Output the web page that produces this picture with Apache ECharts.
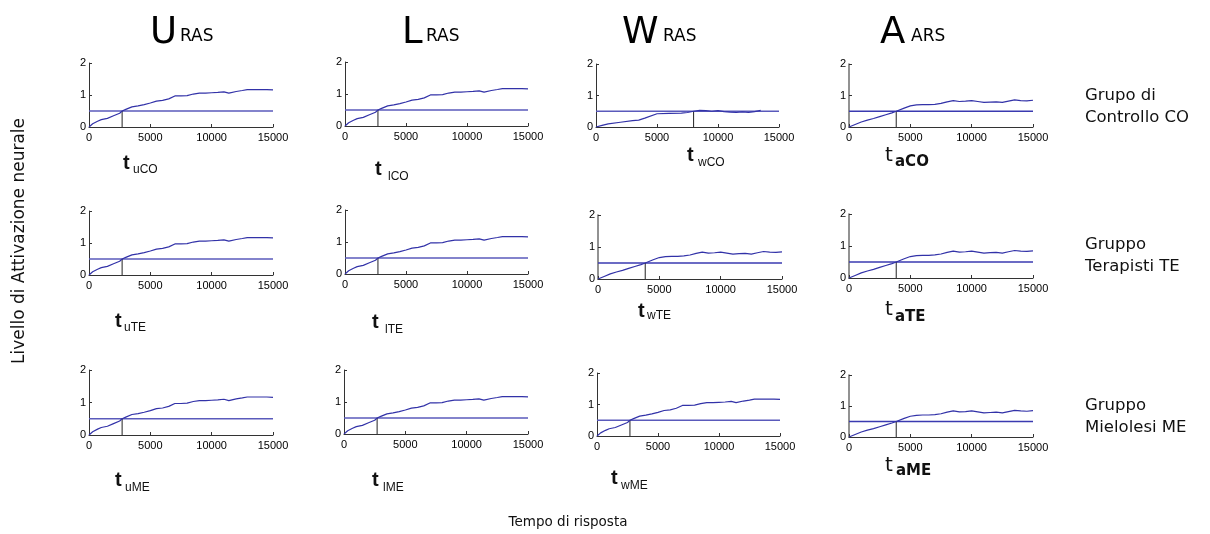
<!DOCTYPE html>
<html>
<head>
<meta charset="utf-8">
<script src="https://cdn.jsdelivr.net/npm/echarts@6/dist/echarts.min.js"></script>
<style>html,body{margin:0;padding:0;background:#fff}#c{width:1210px;height:534px}</style>
</head>
<body>
<div id="c"></div>
<script>
// ---- data ----
const columnTitles = ['U', 'L', 'W', 'A'];
const columnSubs = ['RAS', 'RAS', 'RAS', 'ARS'];
const rowLabels = [['Grupo di', 'Controllo CO'], ['Gruppo', 'Terapisti TE'], ['Gruppo', 'Mielolesi ME']];
const tSubs = [['uCO', 'lCO', 'wCO', 'aCO'], ['uTE', 'lTE', 'wTE', 'aTE'], ['uME', 'lME', 'wME', 'aME']];
const xTicks = [0, 5000, 10000, 15000];
const yTicks = [0, 1, 2];
const threshold = 0.5;

// curve shape "UL" (U and L columns, W row 3)
const timesUL = [0,300,700,1000,1500,2000,2500,2700,3000,3500,4000,4500,5000,5500,6000,6500,7000,7500,8000,8500,9000,9500,10000,10500,11000,11400,12000,12500,12900,13500,14000,14500,15000];
const actUL   = [0,0.10,0.18,0.23,0.27,0.35,0.43,0.50,0.55,0.63,0.66,0.70,0.75,0.81,0.83,0.88,0.97,0.97,0.98,1.03,1.06,1.06,1.07,1.08,1.10,1.06,1.11,1.14,1.17,1.17,1.17,1.17,1.16];
// curve shape "WCO" (W column, row 1)
const timesWCO = [0,500,1000,2000,3000,3500,4000,5000,6000,7000,7500,8000,8500,9000,9500,10000,10500,11000,11500,12000,12500,13000,13500];
const actWCO   = [0,0.05,0.10,0.15,0.20,0.22,0.28,0.42,0.43,0.44,0.46,0.50,0.53,0.52,0.50,0.52,0.49,0.47,0.46,0.48,0.46,0.49,0.53];
// curve shape "A" (A column, W row 2)
const timesA = [0,500,1000,1500,2000,2500,3000,3500,3850,4500,5000,5500,6000,6500,7000,7500,8000,8500,9000,9500,10000,10500,11000,11500,12000,12500,13000,13500,14000,14500,15000];
const actA   = [0,0.08,0.16,0.22,0.27,0.33,0.39,0.45,0.50,0.60,0.67,0.70,0.71,0.71,0.72,0.75,0.80,0.84,0.81,0.82,0.84,0.81,0.78,0.79,0.80,0.78,0.82,0.86,0.84,0.83,0.85];

const panelShape = [['UL','UL','WCO','A'], ['UL','UL','A','A'], ['UL','UL','UL','A']];
const crossTimes = [[2700,2700,8000,3850], [2700,2700,3850,3850], [2700,2700,2700,3850]];

// ---- layout (pixels) ----
const grids = [
  [[89,63,184,64],[345,62,183,64],[596,64,183,63],[849,64,184,63]],
  [[89,211,184,64],[345,210,183,64],[598,215,184,64],[849,214,184,64]],
  [[89,370,184,65],[344,370,184,64],[597,373,183,63],[849,375,184,62]]
];
const tPos = [
  [[123,163,133,170],[375,169,388,177],[687,155,698,163],[885,156,895,162]],
  [[115,321,124,328],[372,322,385,330],[638,311,647,316],[885,310,895,317]],
  [[115,480,125,488],[372,480,383,488],[611,478,621,486],[885,466,896,471]]
];
const titleX = [[150,180],[402,426],[622,663],[880,911]];
const rowLabelY = [[96,118],[245,267],[406,428]];

const shapes = {UL:[timesUL,actUL], WCO:[timesWCO,actWCO], A:[timesA,actA]};
const zip = (a,b) => a.map((v,i)=>[v,b[i]]);

const gridOpt = [], xAxes = [], yAxes = [], series = [], graphics = [];
let idx = 0;
for (let r = 0; r < 3; r++) {
  for (let c = 0; c < 4; c++) {
    const g = grids[r][c];
    const isAshape = panelShape[r][c] === 'A';
    gridOpt.push({left:g[0], top:g[1], width:g[2], height:g[3], containLabel:false});
    xAxes.push({
      gridIndex: idx, type:'value', min: xTicks[0], max: xTicks[xTicks.length-1], interval: xTicks[1]-xTicks[0],
      axisLine:{show:true, onZero:false, lineStyle:{color:'#333', width:1}},
      axisTick:{show:true, inside:true, length:3, lineStyle:{color:'#333'}},
      axisLabel:{show:true, fontSize:11, color:'#000', margin:5, fontFamily:'Liberation Sans', showMinLabel:true, showMaxLabel:true, hideOverlap:false,
        formatter: v => String(v)},
      splitLine:{show:false}
    });
    yAxes.push({
      gridIndex: idx, type:'value', min: yTicks[0], max: yTicks[yTicks.length-1], interval: yTicks[1]-yTicks[0],
      axisLine:{show:true, onZero:false, lineStyle:{color: isAshape ? '#777' : '#333', width: isAshape ? 1.6 : 1}},
      axisTick:{show:true, inside:true, length:3, lineStyle:{color:'#333'}},
      axisLabel:{show:true, fontSize:11, color:'#000', margin:3, fontFamily:'Liberation Sans', showMinLabel:true, showMaxLabel:true, hideOverlap:false},
      splitLine:{show:false}
    });
    const sh = shapes[panelShape[r][c]];
    const tc = crossTimes[r][c];
    series.push({type:'line', xAxisIndex:idx, yAxisIndex:idx, data:[[xTicks[0],threshold],[xTicks[xTicks.length-1],threshold]],
      showSymbol:false, silent:true, lineStyle:{color: isAshape ? '#3a3ab0' : '#5a5abb', width:1.3}, z:2});
    series.push({type:'line', xAxisIndex:idx, yAxisIndex:idx, data:[[tc,0],[tc,threshold]],
      showSymbol:false, silent:true, lineStyle:{color:'#222', width:1}, z:3});
    series.push({type:'line', xAxisIndex:idx, yAxisIndex:idx, data:zip(sh[0], sh[1]),
      showSymbol:false, silent:true, lineStyle:{color:'#3232a8', width:1.2}, z:4});
    // t labels
    const tp = tPos[r][c];
    const isA = c === 3;
    graphics.push({type:'text', x:tp[0], y:tp[1], style:{text:'t', font:(isA?'normal 20px "DejaVu Sans"':'bold 20px "Liberation Sans"'), fill:'#111', textAlign:'left', textVerticalAlign:'middle', align:'left', verticalAlign:'middle'}});
    graphics.push({type:'text', x:tp[2], y:tp[3], style:{text:tSubs[r][c], font:(isA?'bold 15px "DejaVu Sans"':'normal 12px "Liberation Sans"'), fill:'#111', textAlign:'left', textVerticalAlign:'middle', align:'left', verticalAlign:'middle'}});
    idx++;
  }
}
// column titles
for (let c = 0; c < 4; c++) {
  graphics.push({type:'text', x:titleX[c][0], y:33, style:{text:columnTitles[c], font:'normal 37px "DejaVu Sans"', fill:'#000', textAlign:'left', textVerticalAlign:'middle', align:'left', verticalAlign:'middle'}});
  graphics.push({type:'text', x:titleX[c][1], y:37, style:{text:columnSubs[c], font:'normal 17px "DejaVu Sans"', fill:'#000', textAlign:'left', textVerticalAlign:'middle', align:'left', verticalAlign:'middle'}});
}
// row labels
for (let r = 0; r < 3; r++) {
  for (let k = 0; k < 2; k++) {
    graphics.push({type:'text', x:1085, y:rowLabelY[r][k], style:{text:rowLabels[r][k], font:'normal 16.5px "DejaVu Sans"', fill:'#111', textAlign:'left', textVerticalAlign:'middle', align:'left', verticalAlign:'middle'}});
  }
}
// axis titles
graphics.push({type:'text', x:20, y:241, rotation:Math.PI/2, style:{text:'Livello di Attivazione neurale', font:'normal 17px "DejaVu Sans"', fill:'#111', textAlign:'center', textVerticalAlign:'middle', align:'center', verticalAlign:'middle'}});
graphics.push({type:'text', x:568, y:522, style:{text:'Tempo di risposta', font:'normal 13.5px "DejaVu Sans"', fill:'#111', textAlign:'center', textVerticalAlign:'middle', align:'center', verticalAlign:'middle'}});

const chart = echarts.init(document.getElementById('c'), null, {renderer:'canvas'});
chart.setOption({
  animation:false,
  backgroundColor:'#fff',
  grid:gridOpt, xAxis:xAxes, yAxis:yAxes, series:series,
  graphic:{elements:graphics}
});
</script>
</body>
</html>
